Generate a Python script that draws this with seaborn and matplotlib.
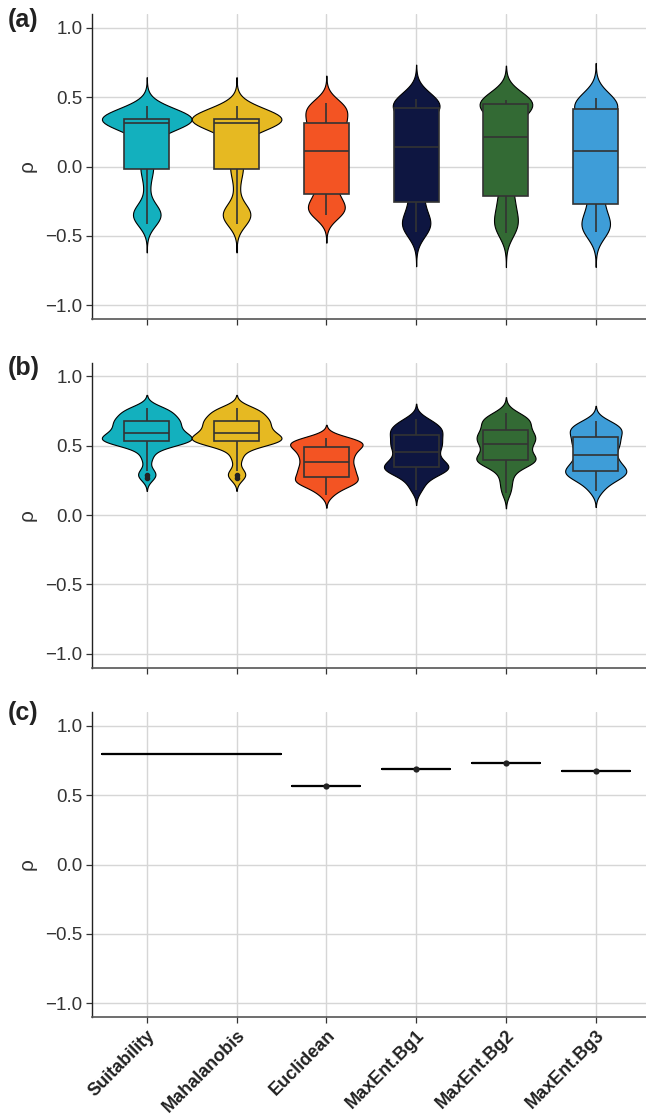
import numpy as np
import pandas as pd
import seaborn as sns
import matplotlib.pyplot as plt

# ---------------- data ----------------
categories = ["Suitability", "Mahalanobis", "Euclidean", "MaxEnt.Bg1", "MaxEnt.Bg2", "MaxEnt.Bg3"]
colors = ["#13B0BE", "#E6B922", "#F35423", "#0E1641", "#336A34", "#3E9DD8"]
panel_labels = ["(a)", "(b)", "(c)"]
y_ticks = [-1.0, -0.5, 0.0, 0.5, 1.0]

# panel (a): rho values per method
suit_a = [-0.415, -0.39, -0.37, -0.35, -0.34, -0.33, -0.31, -0.28,
          -0.15, -0.05, -0.01, 0.02,
          0.10, 0.18, 0.24, 0.27, 0.29, 0.30, 0.31, 0.312,
          0.32, 0.325, 0.33, 0.33, 0.335, 0.335, 0.34, 0.34, 0.342, 0.344,
          0.35, 0.355, 0.36, 0.365, 0.37, 0.38, 0.39, 0.40, 0.42, 0.44]
maha_a = list(suit_a)
eucl_a = [-0.35, -0.34, -0.33, -0.32, -0.31, -0.30, -0.29, -0.27, -0.25, -0.21,
          -0.19, -0.16, -0.12, -0.08, -0.04, 0.0, 0.03, 0.06, 0.08, 0.10,
          0.124, 0.15, 0.18, 0.21, 0.24, 0.26, 0.28, 0.29, 0.30, 0.31,
          0.335, 0.36, 0.38, 0.40, 0.41, 0.42, 0.43, 0.44, 0.45, 0.456]
bg1_a = [-0.47, -0.45, -0.44, -0.43, -0.42, -0.41, -0.40, -0.38, -0.33, -0.27,
         -0.25, -0.20, -0.15, -0.10, -0.05, 0.0, 0.04, 0.08, 0.11, 0.13,
         0.156, 0.19, 0.23, 0.27, 0.31, 0.35, 0.38, 0.40, 0.41, 0.42,
         0.44, 0.445, 0.45, 0.455, 0.46, 0.465, 0.47, 0.475, 0.48, 0.485]
bg2_a = [-0.478, -0.46, -0.44, -0.42, -0.40, -0.38, -0.35, -0.31, -0.27, -0.23,
         -0.207, -0.15, -0.09, -0.03, 0.03, 0.08, 0.12, 0.15, 0.18, 0.20,
         0.22, 0.26, 0.30, 0.34, 0.37, 0.40, 0.42, 0.43, 0.44, 0.45,
         0.462, 0.463, 0.465, 0.466, 0.468, 0.47, 0.472, 0.475, 0.478, 0.48]
bg3_a = [-0.475, -0.46, -0.45, -0.44, -0.43, -0.42, -0.41, -0.38, -0.34, -0.28,
         -0.267, -0.22, -0.17, -0.12, -0.07, -0.02, 0.03, 0.07, 0.09, 0.105,
         0.123, 0.16, 0.20, 0.24, 0.28, 0.32, 0.35, 0.37, 0.39, 0.405,
         0.43, 0.44, 0.445, 0.45, 0.455, 0.46, 0.47, 0.48, 0.49, 0.497]

# panel (b)
suit_b = [0.27, 0.29, 0.315, 0.40, 0.45, 0.49, 0.51, 0.52, 0.525, 0.528,
          0.531, 0.535, 0.54, 0.545, 0.55, 0.555, 0.56, 0.57, 0.58, 0.585,
          0.595, 0.60, 0.61, 0.62, 0.63, 0.64, 0.65, 0.66, 0.67, 0.673,
          0.683, 0.69, 0.70, 0.71, 0.72, 0.74, 0.75, 0.76, 0.765, 0.77]
maha_b = list(suit_b)
eucl_b = [0.146, 0.18, 0.20, 0.218, 0.23, 0.237, 0.243, 0.248, 0.253, 0.259,
          0.279, 0.29, 0.30, 0.31, 0.32, 0.33, 0.34, 0.35, 0.362, 0.374,
          0.39, 0.40, 0.41, 0.42, 0.435, 0.445, 0.455, 0.465, 0.476, 0.4877,
          0.497, 0.504, 0.511, 0.518, 0.524, 0.53, 0.536, 0.542, 0.55, 0.557]
bg1_b = [0.18, 0.22, 0.255, 0.28, 0.298, 0.31, 0.318, 0.326, 0.333, 0.34,
         0.345, 0.35, 0.36, 0.37, 0.38, 0.39, 0.41, 0.42, 0.43, 0.45,
         0.464, 0.48, 0.49, 0.50, 0.51, 0.52, 0.53, 0.545, 0.56, 0.572,
         0.585, 0.595, 0.605, 0.615, 0.625, 0.635, 0.65, 0.665, 0.68, 0.695]
bg2_b = [0.16, 0.215, 0.265, 0.31, 0.345, 0.365, 0.376, 0.383, 0.388, 0.392,
         0.3995, 0.407, 0.415, 0.425, 0.44, 0.455, 0.47, 0.485, 0.497, 0.508,
         0.52, 0.53, 0.54, 0.55, 0.56, 0.568, 0.576, 0.585, 0.595, 0.605,
         0.625, 0.64, 0.655, 0.665, 0.675, 0.685, 0.695, 0.705, 0.72, 0.738]
bg3_b = [0.17, 0.205, 0.235, 0.255, 0.268, 0.278, 0.287, 0.295, 0.303, 0.31,
         0.317, 0.325, 0.335, 0.345, 0.355, 0.37, 0.385, 0.40, 0.41, 0.42,
         0.44, 0.46, 0.48, 0.49, 0.50, 0.51, 0.52, 0.535, 0.55, 0.56,
         0.58, 0.59, 0.60, 0.61, 0.62, 0.63, 0.64, 0.65, 0.665, 0.675]

# panel (c): single value per method
values_c = [0.795, 0.795, 0.565, 0.69, 0.735, 0.672]


def to_long(arrays):
    rows = []
    for cat, arr in zip(categories, arrays):
        for v in arr:
            rows.append((cat, v))
    return pd.DataFrame(rows, columns=["method", "rho"])


df_a = to_long([suit_a, maha_a, eucl_a, bg1_a, bg2_a, bg3_a])
df_b = to_long([suit_b, maha_b, eucl_b, bg1_b, bg2_b, bg3_b])
df_c = pd.DataFrame({"method": categories, "rho": values_c})

palette = dict(zip(categories, colors))

# ---------------- style ----------------
sns.set_theme(style="white")
plt.rcParams["font.family"] = ["Liberation Sans", "DejaVu Sans"]

fig = plt.figure(figsize=(6.46, 11.14), dpi=100)
left = 92 / 646
width = (646 - 92) / 646
height = 305 / 1114
bottoms = [1 - 319 / 1114, 1 - 667.5 / 1114, 1 - 1017 / 1114]
axes = [fig.add_axes([left, b, width, height]) for b in bottoms]

bw_adj = [0.5, 0.65]
for i, (ax, df) in enumerate(zip(axes[:2], [df_a, df_b])):
    n_before = len(ax.collections)
    sns.violinplot(data=df, x="method", y="rho", order=categories, color="white",
                   inner=None, cut=3 if i == 0 else 2.5, bw_adjust=bw_adj[i], width=1.0,
                   linewidth=0.8, linecolor="black", density_norm="area",
                   saturation=1, ax=ax)
    for k, coll in enumerate(ax.collections[n_before:n_before + len(categories)]):
        coll.set_facecolor(colors[k])
    sns.boxplot(data=df, x="method", y="rho", hue="method", order=categories,
                hue_order=categories, palette=palette, width=0.5, linewidth=1.2,
                linecolor="#333333", saturation=1, showcaps=False, fliersize=3,
                flierprops=dict(marker="o", markerfacecolor="#222222",
                                markeredgecolor="#222222"),
                legend=False, ax=ax)

ax = axes[2]
wide_c = df_c[df_c["method"].isin(categories[:2])]
narrow_c = df_c[df_c["method"].isin(categories[2:])]
sns.boxplot(data=wide_c, x="method", y="rho", order=categories, width=1.0,
            color="black", linecolor="#1a1a1a", linewidth=1.5, fill=False,
            showcaps=False, ax=ax)
sns.boxplot(data=narrow_c, x="method", y="rho", order=categories, width=0.76,
            color="black", linecolor="#1a1a1a", linewidth=1.5, fill=False,
            showcaps=False, ax=ax)
sns.stripplot(data=narrow_c, x="method", y="rho", order=categories, jitter=False,
              color="#222222", size=4.5, ax=ax)

label_y = [20, 368, 713]
for i, ax in enumerate(axes):
    ax.set_xlim(-0.61, 5.56)
    ax.set_ylim(-1.1, 1.1)
    ax.set_yticks(y_ticks)
    ax.grid(True, axis="both", color="#d6d6d6", linewidth=1.0)
    ax.set_axisbelow(True)
    for s in ["top", "right"]:
        ax.spines[s].set_visible(False)
    ax.spines["left"].set_color("#222222")
    ax.spines["bottom"].set_color("#555555")
    ax.spines["left"].set_linewidth(1.0)
    ax.spines["bottom"].set_linewidth(1.2)
    ax.tick_params(axis="both", which="both", length=4, width=0.9, color="#333333",
                   labelsize=13.5, labelcolor="#333333", pad=3, left=True, bottom=True)
    ax.set_xlabel("")
    ax.set_ylabel("ρ", fontsize=15, color="#333333", labelpad=6)
    if i < 2:
        ax.tick_params(axis="x", labelbottom=False)
    else:
        ax.set_xticks(range(len(categories)))
        ax.set_xticklabels(categories, rotation=45, ha="right", rotation_mode="anchor",
                           fontweight="bold", fontsize=13, color="#222222")
    fig.text(8 / 646, 1 - label_y[i] / 1114, panel_labels[i], fontsize=18,
             fontweight="bold", va="center", ha="left", color="#222222")

fig.savefig("out.png", dpi=100)
